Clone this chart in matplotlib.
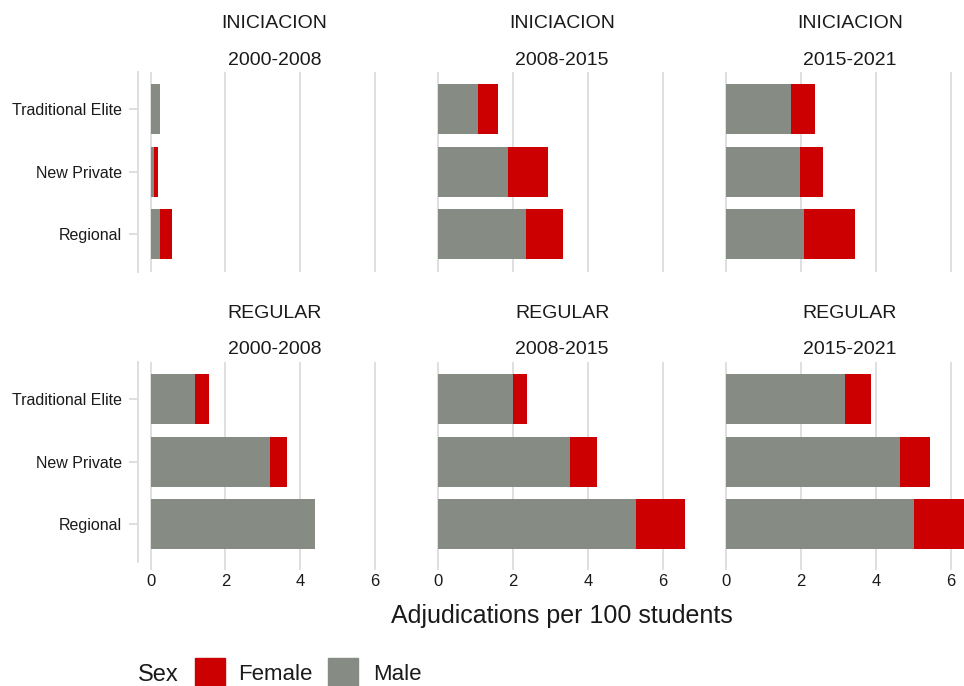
import numpy as np
import matplotlib.pyplot as plt
from matplotlib.patches import Rectangle

plt.rcParams['font.family'] = ['Liberation Sans', 'DejaVu Sans']

categories = ['Traditional Elite', 'New Private', 'Regional']
periods = ['2000-2008', '2008-2015', '2015-2021']
programs = ['INICIACION', 'REGULAR']

# one row per period, one value per category
ini_male = [[0.24, 0.10, 0.24], [1.05, 1.86, 2.33], [1.73, 1.98, 2.07]]
ini_female = [[0.0, 0.10, 0.34], [0.55, 1.07, 0.99], [0.63, 0.61, 1.37]]
reg_male = [[1.18, 3.19, 4.39], [1.99, 3.53, 5.27], [3.18, 4.64, 5.01]]
reg_female = [[0.39, 0.46, 0.0], [0.38, 0.72, 1.33], [0.68, 0.81, 1.49]]

x_ticks = [0, 2, 4, 6]

male_col = '#868B84'
female_col = '#CC0000'
grid_col = '#DCDCDC'
txt_col = '#1A1A1A'

W, H = 964, 686
fig = plt.figure(figsize=(W / 100, H / 100), dpi=100)

# panel placement in pixels
lefts = [138.3, 426.1, 713.9]
tops = [72, 362]
pw, ph = 272.3, 199.5
strip_base = [(27.5, 65), (317.5, 354.5)]

males = [ini_male, reg_male]
females = [ini_female, reg_female]
y = np.arange(1, len(categories) + 1)

for r, prog in enumerate(programs):
    for c, per in enumerate(periods):
        ax = fig.add_axes([lefts[c] / W, 1 - (tops[r] + ph) / H, pw / W, ph / H])
        ax.barh(y, males[r][c], height=0.8, color=male_col)
        ax.barh(y, females[r][c], left=males[r][c], height=0.8, color=female_col)
        ax.set_xlim(-0.331, 6.951)
        ax.set_ylim(3.6, 0.4)
        ax.set_xticks(x_ticks)
        ax.set_yticks(y)
        ax.set_yticklabels(categories)
        ax.grid(axis='x', color=grid_col, lw=1.3)
        ax.set_axisbelow(True)
        ax.set_facecolor('none')
        for s in ax.spines.values():
            s.set_visible(False)

        if c == 0:
            ax.spines['left'].set_visible(True)
            ax.spines['left'].set_color(grid_col)
            ax.spines['left'].set_linewidth(1.3)
            ax.tick_params(axis='y', length=6.5, width=1.3, color=grid_col,
                           pad=5, labelsize=11.5, labelcolor=txt_col)
        else:
            ax.tick_params(axis='y', length=0, labelleft=False)

        if r == 1:
            ax.tick_params(axis='x', length=5.5, width=1.3, color=grid_col,
                           pad=3.5, labelsize=12, labelcolor=txt_col)
        else:
            ax.tick_params(axis='x', length=0, labelbottom=False)

        cx = (lefts[c] + pw / 2) / W
        fig.text(cx, 1 - strip_base[r][0] / H, prog, ha='center', va='baseline',
                 fontsize=14, color=txt_col)
        fig.text(cx, 1 - strip_base[r][1] / H, per, ha='center', va='baseline',
                 fontsize=14, color=txt_col)

fig.text((lefts[1] + pw / 2) / W, 1 - 623 / H, 'Adjudications per 100 students',
         ha='center', va='baseline', fontsize=18, color=txt_col)

# legend at the bottom
fig.text(138 / W, 1 - 681 / H, 'Sex', ha='left', va='baseline', fontsize=17, color=txt_col)
fig.patches.append(Rectangle((195 / W, 1 - 688 / H), 30 / W, 30 / H,
                             transform=fig.transFigure, color=female_col))
fig.text(238 / W, 1 - 680 / H, 'Female', ha='left', va='baseline', fontsize=16, color=txt_col)
fig.patches.append(Rectangle((328 / W, 1 - 688 / H), 30 / W, 30 / H,
                             transform=fig.transFigure, color=male_col))
fig.text(373 / W, 1 - 680 / H, 'Male', ha='left', va='baseline', fontsize=16, color=txt_col)

fig.savefig('out.png', dpi=100)
